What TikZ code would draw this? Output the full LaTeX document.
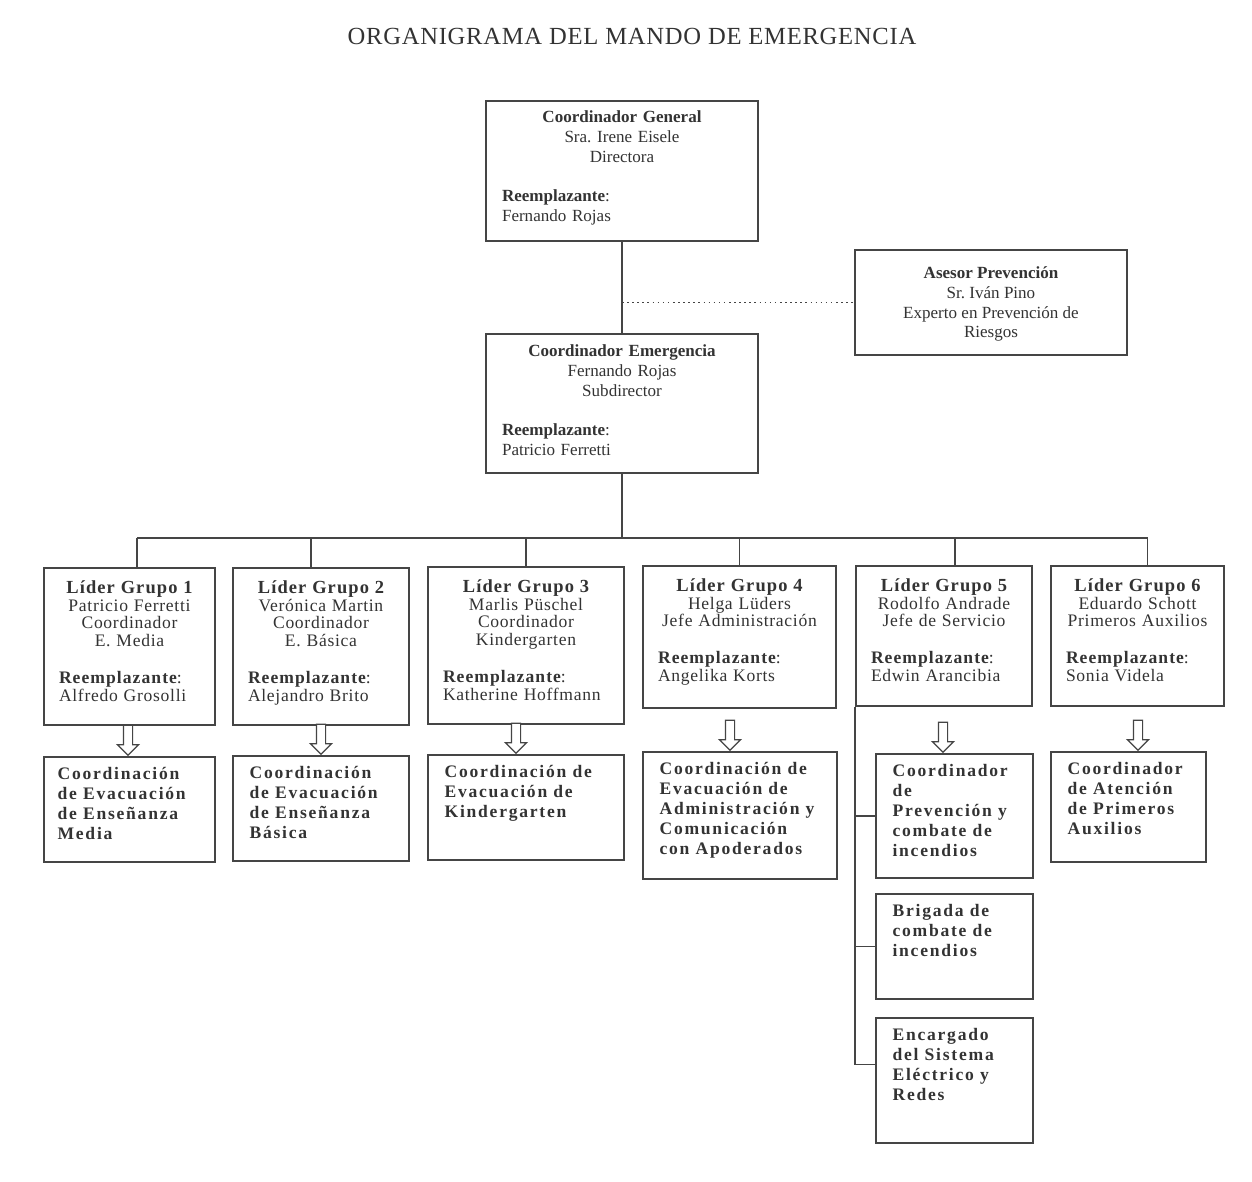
\documentclass[tikz,border=0pt]{standalone}
\usepackage{fontspec}
\setmainfont{Liberation Serif}
\newfontfamily\titlefont[LetterSpace=3]{Liberation Serif}
\newfontfamily\headfont[LetterSpace=6]{Liberation Serif}
\newfontfamily\bodyfont[LetterSpace=4]{Liberation Serif}
\newfontfamily\subfont[LetterSpace=10]{Liberation Serif}
\usepackage{tikz}
\usetikzlibrary{shapes.arrows,positioning,calc}

\definecolor{linegray}{HTML}{454545}
\definecolor{textgray}{HTML}{333333}

\newcommand{\topsize}{\fontsize{9.7}{11.3}\selectfont}
\newcommand{\leadsize}{\fontsize{10}{10.1}\selectfont}
\newcommand{\subsize}{\fontsize{10}{11.3}\selectfont}
% leader box text: heading + lines, then replacement
\newcommand{\leadertext}[3]{{\centering{\headfont\bfseries\fontsize{10.5}{10.1}\selectfont #1}\\#2\par}\vspace{11pt}{\raggedright{\headfont\bfseries Reemplazante}:\\#3\par}}

\begin{document}
\begin{tikzpicture}[x=0.02cm, y=-0.02cm,
  box/.style 2 args={draw=linegray, line width=0.9pt, minimum width=#1cm, minimum height=#2cm, inner sep=0pt},
  boxtext/.style={anchor=north, inner sep=0pt, text width=#1, text=textgray, font=\bodyfont\leadsize},
  subtext/.style={anchor=north west, inner sep=0pt, align=left, text=textgray, font=\subfont\bfseries\subsize},
  hollow/.style={single arrow, draw=linegray, line width=0.7pt, fill=white, shape border rotate=270,
    minimum height=0.6cm, single arrow head extend=0.12cm, inner sep=0.08cm, anchor=tip},
  line/.style={draw=linegray, line width=0.9pt}]

\fill[white] (0,0) rectangle (1252,1182);
\useasboundingbox (0,0) rectangle (1252,1182);

\node[font=\titlefont\fontsize{14}{16}\selectfont, text=textgray] (title) at (632,36) {ORGANIGRAMA DEL MANDO DE EMERGENCIA};

% top of the chart
\node[box={5.44}{2.80}] (CG) at (622,171) {};
\node[box={5.44}{2.10}] (A) at (991,302.5) {};
\node[box={5.44}{2.78}] (CE) at (622,403.5) {};

\node[boxtext=4.80cm, font=\topsize] (CGt) at ([yshift=-0.2cm]CG.north)
  {{\centering\textbf{Coordinador General}\\Sra.\ Irene Eisele\\Directora\par}\vspace{11.4pt}{\raggedright\textbf{Reemplazante}:\\Fernando Rojas\par}};
\node[anchor=north, inner sep=0pt, align=center, font=\topsize, text=textgray] (At) at ([yshift=-0.34cm]A.north)
  {\textbf{Asesor Prevención}\\Sr.\ Iván Pino\\Experto en Prevención de\\Riesgos};
\node[boxtext=4.80cm, font=\topsize] (CEt) at ([yshift=-0.22cm]CE.north)
  {{\centering\textbf{Coordinador Emergencia}\\Fernando Rojas\\Subdirector\par}\vspace{11.4pt}{\raggedright\textbf{Reemplazante}:\\Patricio Ferretti\par}};

\draw[line] (CG.south) -- (CE.north);
\draw[line, dotted] (CG.south |- A.west) -- (A.west);

% group leaders
\node[box={3.42}{3.14}] (L1) at (129.5,646.5) {};
\node[box={3.52}{3.14}] (L2) at (321,646.5) {};
\node[box={3.92}{3.14}] (L3) at (526,645.5) {};
\node[box={3.86}{2.84}] (L4) at (739.5,637) {};
\node[box={3.52}{2.80}] (L5) at (944,636) {};
\node[box={3.46}{2.80}] (L6) at (1137.5,636) {};

\node[boxtext=2.82cm] (L1t) at ([yshift=-0.26cm]L1.north) {\leadertext{Líder Grupo 1}{Patricio Ferretti\\Coordinador\\E. Media}{Alfredo Grosolli}};
\node[boxtext=2.92cm] (L2t) at ([yshift=-0.26cm]L2.north) {\leadertext{Líder Grupo 2}{Verónica Martin\\Coordinador\\E. Básica}{Alejandro Brito}};
\node[boxtext=3.32cm] (L3t) at ([yshift=-0.26cm]L3.north) {\leadertext{Líder Grupo 3}{Marlis Püschel\\Coordinador\\Kindergarten}{Katherine Hoffmann}};
\node[boxtext=3.26cm] (L4t) at ([yshift=-0.26cm]L4.north) {\leadertext{Líder Grupo 4}{Helga Lüders\\Jefe Administración}{Angelika Korts}};
\node[boxtext=2.92cm] (L5t) at ([yshift=-0.26cm]L5.north) {\leadertext{Líder Grupo 5}{Rodolfo Andrade\\Jefe de Servicio}{Edwin Arancibia}};
\node[boxtext=2.86cm] (L6t) at ([yshift=-0.26cm]L6.north) {\leadertext{Líder Grupo 6}{Eduardo Schott\\Primeros Auxilios}{Sonia Videla}};

\draw[line] (CE.south) -- ++(0,64) coordinate (bus);
\foreach \n/\d in {L1/0.15, L2/-0.2, L3/0, L4/0, L5/0.22, L6/0.2} {
  \coordinate (d\n) at ([xshift=\d cm]\n.north);
  \draw[line] (d\n) -- (d\n |- bus);
}
\draw[line] (dL1 |- bus) -- (dL6 |- bus);

% evacuation tasks
\node[box={3.42}{2.10}] (S1) at (129.5,809.5) {};
\node[box={3.52}{2.10}] (S2) at (321,808.5) {};
\node[box={3.92}{2.10}] (S3) at (526,807.5) {};
\node[box={3.88}{2.54}] (S4) at (740,815.5) {};
\node[box={3.14}{2.48}] (S5a) at (954.5,816) {};
\node[box={3.10}{2.20}] (S6) at (1128.5,807) {};
\node[box={3.14}{2.10}] (S5b) at (954.5,946.5) {};
\node[box={3.14}{2.50}] (S5c) at (954.5,1080.5) {};

\node[subtext] (S1t) at ([xshift=0.28cm, yshift=-0.22cm]S1.north west) {Coordinación\\de Evacuación\\de Enseñanza\\Media};
\node[subtext] (S2t) at ([xshift=0.34cm, yshift=-0.22cm]S2.north west) {Coordinación\\de Evacuación\\de Enseñanza\\Básica};
\node[subtext] (S3t) at ([xshift=0.34cm, yshift=-0.22cm]S3.north west) {Coordinación de\\Evacuación de\\Kindergarten};
\node[subtext] (S4t) at ([xshift=0.34cm, yshift=-0.22cm]S4.north west) {Coordinación de\\Evacuación de\\Administración y\\Comunicación\\con Apoderados};
\node[subtext] (S5at) at ([xshift=0.34cm, yshift=-0.22cm]S5a.north west) {Coordinador\\de\\Prevención y\\combate de\\incendios};
\node[subtext] (S6t) at ([xshift=0.34cm, yshift=-0.22cm]S6.north west) {Coordinador\\de Atención\\de Primeros\\Auxilios};
\node[subtext] (S5bt) at ([xshift=0.34cm, yshift=-0.22cm]S5b.north west) {Brigada de\\combate de\\incendios};
\node[subtext] (S5ct) at ([xshift=0.34cm, yshift=-0.22cm]S5c.north west) {Encargado\\del Sistema\\Eléctrico y\\Redes};

% hollow arrows
\node[hollow] (a1) at ([xshift=-0.03cm]S1.north) {};
\node[hollow] (a2) at (S2.north) {};
\node[hollow] (a3) at ([xshift=-0.2cm]S3.north) {};
\node[hollow] (a4) at ([xshift=-0.2cm]S4.north) {};
\node[hollow] (a5) at ([xshift=-0.23cm]S5a.north) {};
\node[hollow] (a6) at ([xshift=0.19cm]S6.north) {};

% branch of group 5
\draw[line] (L5.south west) |- (S5a.west);
\draw[line] (L5.south west) |- (S5b.west);
\draw[line] (L5.south west) |- ([yshift=0.32cm]S5c.west);

\end{tikzpicture}
\end{document}
